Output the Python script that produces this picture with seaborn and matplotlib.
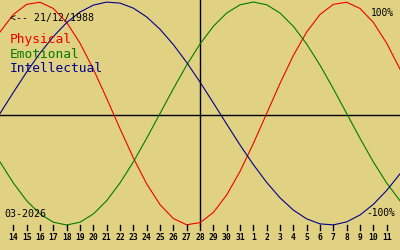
import matplotlib
matplotlib.use("Agg")
import matplotlib.pyplot as plt
import seaborn as sns
import pandas as pd

# ---- data ----
birth_label = "<-- 21/12/1988"
month_label = "03-2026"
top_label = "100%"
bottom_label = "-100%"
series_names = ["Physical", "Emotional", "Intellectual"]
day_labels = ["14", "15", "16", "17", "18", "19", "20", "21", "22", "23", "24",
              "25", "26", "27", "28", "29", "30", "31", "1", "2", "3", "4", "5",
              "6", "7", "8", "9", "10", "11"]
day_index = list(range(-1, 30))   # -1 and 29 are the partial days at the edges
physical = [0.731, 0.888, 0.979, 0.998, 0.942, 0.817, 0.631, 0.398, 0.136, -0.136,
            -0.398, -0.631, -0.817, -0.942, -0.998, -0.979, -0.888, -0.731, -0.520,
            -0.270, 0.000, 0.270, 0.520, 0.731, 0.888, 0.979, 0.998, 0.942, 0.817,
            0.631, 0.398]
emotional = [-0.434, -0.623, -0.782, -0.901, -0.975, -1.000, -0.975, -0.901, -0.782,
             -0.623, -0.434, -0.222, 0.000, 0.222, 0.434, 0.623, 0.782, 0.901, 0.975,
             1.000, 0.975, 0.901, 0.782, 0.623, 0.434, 0.222, 0.000, -0.222, -0.434,
             -0.623, -0.782]
intellectual = [0.000, 0.189, 0.372, 0.541, 0.690, 0.815, 0.910, 0.972, 0.999, 0.990,
                0.945, 0.866, 0.756, 0.618, 0.458, 0.282, 0.095, -0.095, -0.282,
                -0.458, -0.618, -0.756, -0.866, -0.945, -0.990, -0.999, -0.972,
                -0.910, -0.815, -0.690, -0.541]
today_pos = 14  # index of day "28"

# ---- styling ----
BG = "#e1d283"
colors = {"Physical": "#ee0000", "Emotional": "#007c00", "Intellectual": "#00008b"}
MONO = "DejaVu Sans Mono"

df = pd.concat([
    pd.DataFrame({"day": day_index, "value": physical, "series": "Physical"}),
    pd.DataFrame({"day": day_index, "value": emotional, "series": "Emotional"}),
    pd.DataFrame({"day": day_index, "value": intellectual, "series": "Intellectual"}),
])

W, H = 400, 250
fig = plt.figure(figsize=(4, 2.5), dpi=100, facecolor=BG)
ax = fig.add_axes([0, 0, 1, 1])
ax.set_facecolor(BG)

# pixel mapping: value v -> pixel y = cy - amp * v
cy, amp = 113.5, 111.5
ymax = cy / amp
ymin = (cy - H) / amp
ax.set_xlim(-1, 29)
ax.set_ylim(ymin, ymax)

def vy(py):
    return (cy - py) / amp

sns.lineplot(data=df, x="day", y="value", hue="series", palette=colors,
             linewidth=0.8, legend=False, ax=ax, sort=False, estimator=None)

# axes lines
ax.axhline(vy(115), color="black", lw=1.0, zorder=1)
ax.plot([today_pos, today_pos], [ymax, vy(225)], color="black", lw=1.0, zorder=1)

# ticks and labels
for i, lab in enumerate(day_labels):
    ax.plot([i, i], [vy(225), vy(230)], color="black", lw=1.0)
    ax.text(i, vy(240), lab, ha="center", va="baseline", fontsize=5.8,
            fontweight="bold", family=MONO, color="black")

def ftext(px, py, s, **kw):
    ax.text(px / W, 1 - py / H, s, transform=ax.transAxes, family=MONO, **kw)

ftext(10, 21, birth_label, fontsize=7.1, color="black", ha="left", va="baseline")
ftext(10, 42.5, series_names[0], fontsize=9.3, color=colors["Physical"], ha="left", va="baseline")
ftext(10, 57.5, series_names[1], fontsize=9.3, color=colors["Emotional"], ha="left", va="baseline")
ftext(10, 72.5, series_names[2], fontsize=9.3, color=colors["Intellectual"], ha="left", va="baseline")
ftext(394, 16, top_label, fontsize=6.9, color="black", ha="right", va="baseline")
ftext(395, 216, bottom_label, fontsize=6.9, color="black", ha="right", va="baseline")
ftext(4, 217, month_label, fontsize=7.2, color="black", ha="left", va="baseline")

ax.axis("off")
fig.savefig("out.png", dpi=100, facecolor=BG)
